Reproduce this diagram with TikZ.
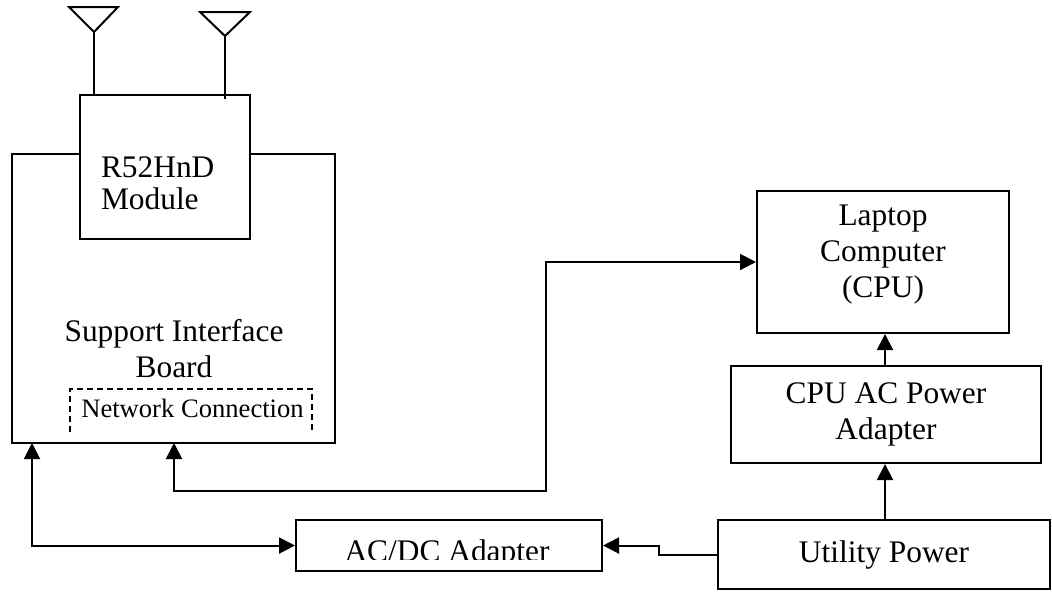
\documentclass[tikz,border=0pt]{standalone}
\usepackage{fontspec}
\setmainfont{Liberation Serif}
\usetikzlibrary{arrows.meta}
\tikzset{
  box/.style={draw, line width=1pt, inner sep=0pt, align=center},
  txt/.style={inner sep=0pt, align=center},
  link/.style={line width=1pt, {Triangle[length=8pt,width=8pt]}-{Triangle[length=8pt,width=8pt]}},
  feed/.style={line width=1pt, -{Triangle[length=8pt,width=8pt]}},
}
\begin{document}
\begin{tikzpicture}[x=0.5pt,y=-0.5pt,line width=1pt,font=\fontsize{15.7}{18}\selectfont]
  \useasboundingbox (0,0) rectangle (1052,591);

  % Radio module and antennas
  \node[box, minimum width=85pt, minimum height=72pt] (module) at (165,167) {};
  \node[txt, align=left, anchor=west] at (100,183) {R52HnD\\[-2pt]Module};
  \draw (69,7) -- (118,7) -- (94,32) -- cycle;
  \draw (94,32) -- (94,95);
  \draw (200,12) -- (250,12) -- (225,36) -- cycle;
  \draw (225,36) -- (225,99);

  % Support board
  \draw (80,154) -- (12,154) -- (12,443) -- (335,443) -- (335,154) -- (250,154);
  \node[txt] (board) at (174,349) {Support Interface\\Board};
  \draw[line width=0.6pt, dash pattern=on 3pt off 2pt] (70,432) -- (70,389) -- (312,389) -- (312,432);
  \node[txt, font=\fontsize{13.3}{15}\selectfont, anchor=base] (net) at (192.5,417) {Network Connection};
  \coordinate (pwrin) at (32,443);
  \coordinate (netin) at (174,443);

  % Right side blocks
  \node[box, minimum width=126pt, minimum height=71pt] (laptop) at (883,262) {};
  \node[txt] at (883,255) {Laptop\\Computer\\(CPU)};
  \node[box, minimum width=155pt, minimum height=48.5pt] (cpuac) at (886,414.5) {CPU AC Power\\Adapter};
  \node[box, minimum width=166pt, minimum height=34.5pt] (utility) at (884,554.5) {Utility Power};

  % AC/DC adapter (text cut at the bottom edge)
  \node[box, minimum width=153pt, minimum height=25.5pt] (acdc) at (449,545.5) {};
  \begin{scope}
    \clip (296,520) rectangle (602,559);
    \node[txt, anchor=base] at (447,561) {AC/DC Adapter};
  \end{scope}

  % Connections
  \draw[link] (pwrin) |- (acdc.west);
  \draw[link] (netin) |- (546,491) |- (laptop.west);
  \draw[feed] (cpuac.north -| 885,0) -- (laptop.south -| 885,0);
  \draw[feed] (utility.north -| 885,0) -- (cpuac.south -| 885,0);
  \draw[feed] (utility.west) -- ++(-58,0) |- (acdc.east);
\end{tikzpicture}
\end{document}
